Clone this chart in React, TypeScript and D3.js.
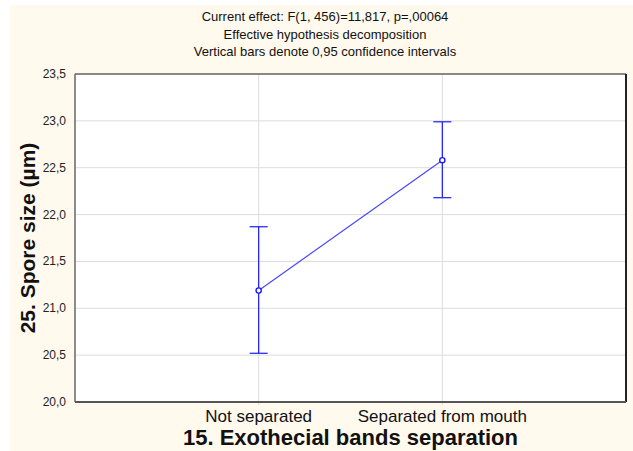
import React from "react";
import * as d3 from "d3";

const categories = ["Not separated", "Separated from mouth"];
const means = [21.19, 22.58];
const upper = [21.87, 22.99];
const lower = [20.52, 22.18];
const yTicks = [20.0, 20.5, 21.0, 21.5, 22.0, 22.5, 23.0, 23.5];
const titleLines = [
  "Current effect: F(1, 456)=11,817, p=,00064",
  "Effective hypothesis decomposition",
  "Vertical bars denote 0,95 confidence intervals",
];

const W = 633;
const H = 451;
const plot = { left: 75, right: 626, top: 74, bottom: 402 };
const font = "'Liberation Sans', Arial, sans-serif";

export default function App() {
  const x = d3
    .scalePoint<string>()
    .domain(categories)
    .range([plot.left, plot.right])
    .padding(1);
  const y = d3.scaleLinear().domain([20, 23.5]).range([plot.bottom, plot.top]);
  const fmt = (v: number) => d3.format(".1f")(v).replace(".", ",");

  const line = d3
    .line<number>()
    .x((_, i) => x(categories[i]) as number)
    .y((d) => y(d));

  return (
    <svg
      width={W}
      height={H}
      style={{ position: "absolute", left: 0, top: 0 }}
      fontFamily={font}
    >
      <rect x={0} y={0} width={W} height={H} fill="#ffffff" />
      <rect x={10} y={5} width={W - 10} height={H - 5} fill="#fff9ee" />
      <rect
        x={plot.left}
        y={plot.top}
        width={plot.right - plot.left}
        height={plot.bottom - plot.top}
        fill="#ffffff"
      />

      {titleLines.map((t, i) => (
        <text key={i} x={325} y={21 + i * 17.5} textAnchor="middle" fontSize={13} fill="#111">
          {t}
        </text>
      ))}

      {/* grid */}
      {yTicks.map((t) => (
        <line key={t} x1={plot.left} x2={plot.right} y1={y(t)} y2={y(t)} stroke="#dcdcdc" />
      ))}
      {categories.map((c) => (
        <line key={c} x1={x(c)} x2={x(c)} y1={plot.top} y2={plot.bottom + 3} stroke="#dcdcdc" />
      ))}

      {/* frame */}
      <line x1={plot.left} x2={plot.right} y1={plot.top} y2={plot.top} stroke="#666" strokeWidth={1.5} />
      <line x1={plot.left} x2={plot.left} y1={plot.top} y2={plot.bottom} stroke="#666" strokeWidth={1.5} />
      <line x1={plot.right} x2={plot.right} y1={plot.top} y2={plot.bottom} stroke="#222" strokeWidth={2} />
      <line x1={plot.left} x2={plot.right} y1={plot.bottom} y2={plot.bottom} stroke="#555" strokeWidth={2} />

      {/* y tick labels */}
      {yTicks.map((t) => (
        <text key={t} x={66} y={y(t) + 4} textAnchor="end" fontSize={12} fill="#222">
          {fmt(t)}
        </text>
      ))}

      {/* category labels */}
      {categories.map((c) => (
        <text key={c} x={x(c)} y={422} textAnchor="middle" fontSize={17} fill="#111">
          {c}
        </text>
      ))}

      <text
        x={(plot.left + plot.right) / 2}
        y={445}
        textAnchor="middle"
        fontSize={22}
        fontWeight="bold"
        fill="#111"
      >
        15. Exothecial bands separation
      </text>
      <text
        transform={`translate(35, ${(plot.top + plot.bottom) / 2}) rotate(-90)`}
        textAnchor="middle"
        fontSize={21}
        fontWeight="bold"
        fill="#111"
      >
        25. Spore size (µm)
      </text>

      {/* error bars */}
      {categories.map((c, i) => {
        const cx = x(c) as number;
        return (
          <g key={c} stroke="#1a1aff" strokeWidth={1.2}>
            <line x1={cx} x2={cx} y1={y(upper[i])} y2={y(lower[i])} />
            <line x1={cx - 9} x2={cx + 9} y1={y(upper[i])} y2={y(upper[i])} />
            <line x1={cx - 9} x2={cx + 9} y1={y(lower[i])} y2={y(lower[i])} />
          </g>
        );
      })}

      <path d={line(means) ?? ""} fill="none" stroke="#4848ff" strokeWidth={1.2} />
      {categories.map((c, i) => (
        <circle
          key={c}
          cx={x(c)}
          cy={y(means[i])}
          r={2.6}
          fill="#ffffff"
          stroke="#1a1aff"
          strokeWidth={1.4}
        />
      ))}
    </svg>
  );
}
